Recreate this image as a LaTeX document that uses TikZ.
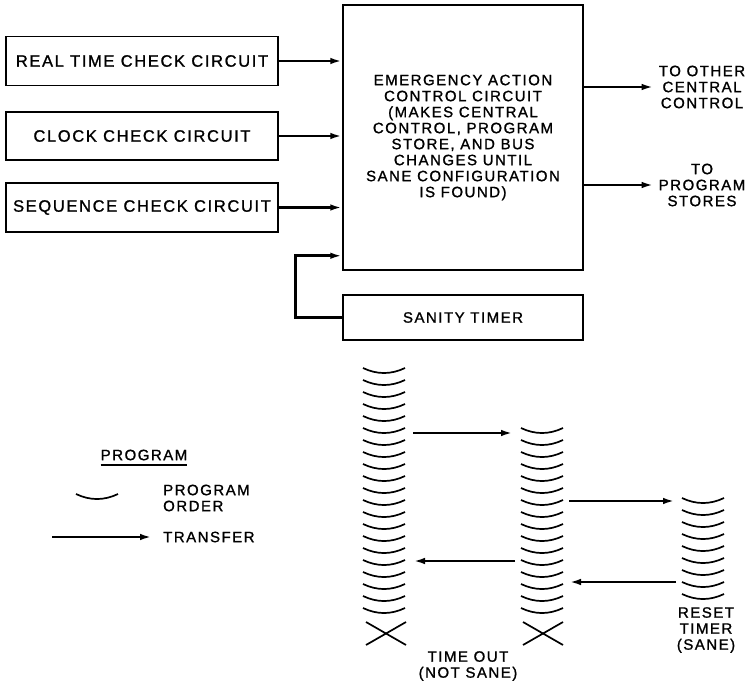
\documentclass[tikz,border=0pt]{standalone}
\usepackage{fontspec}
\setmainfont{Liberation Sans}[LetterSpace=10,FakeBold=1.2]
\usetikzlibrary{arrows.meta}

\tikzset{
    block/.style={draw, line width=1.5pt, inner sep=0pt, align=center},
    flow/.style={line width=2.8pt, -{Latex[length=12pt,width=6.5pt]}},
    lbl/.style={align=center, inner sep=0pt},
    porder/.pic={\draw[line width=1.7pt] (-21,-5) .. controls (-7,1.7) and (7,1.7) .. (21,-5);},
    timeout/.pic={\draw[line width=1.7pt] (-20,-11.5) -- (20,11.5) (-20,11.5) -- (20,-11.5);}
}

\begin{document}
\begin{tikzpicture}[x=1pt, y=-1pt, font=\fontsize{15}{16}\selectfont]
    \useasboundingbox (0,0) rectangle (751,685);

    % check circuits
    \node[block, minimum width=272pt, minimum height=49pt, font=\fontsize{16.5}{17}\selectfont] (rtc) at (142,61) {REAL TIME CHECK CIRCUIT};
    \node[block, minimum width=272pt, minimum height=48pt, font=\fontsize{16.5}{17}\selectfont] (ccc) at (142,136) {CLOCK CHECK CIRCUIT};
    \node[block, minimum width=272pt, minimum height=49pt, font=\fontsize{16.5}{17}\selectfont] (scc) at (142,207.5) {SEQUENCE CHECK CIRCUIT};

    \node[block, minimum width=240pt, minimum height=265pt] (eac) at (463,137.5)
        {EMERGENCY ACTION\\CONTROL CIRCUIT\\(MAKES CENTRAL\\CONTROL, PROGRAM\\STORE, AND BUS\\CHANGES UNTIL\\SANE CONFIGURATION\\IS FOUND)};
    \node[block, minimum width=240pt, minimum height=45pt] (sat) at (463,317.5) {SANITY TIMER};

    \draw[flow] (rtc.east) -- (rtc.east -| eac.west);
    \draw[flow] (ccc.east) -- (ccc.east -| eac.west);
    \draw[flow] (scc.east) -- (scc.east -| eac.west);
    \draw[flow] (sat.west) -- ++(-47,0) |- ([yshift=15pt]eac.south west);

    \node[lbl] (toc) at (702,87) {TO OTHER\\CENTRAL\\CONTROL};
    \node[lbl] (tps) at (702,185) {TO\\PROGRAM\\STORES};
    \draw[flow] (toc.west -| eac.east) -- ([xshift=-5pt]toc.west);
    \draw[flow] (tps.west -| eac.east) -- ([xshift=-5pt]toc.west |- tps.west);

    % program orders
    \foreach \k in {0,...,20} \pic at (384,{373+12*\k}) {porder};
    \foreach \k in {0,...,15} \pic at (542,{433+12*\k}) {porder};
    \foreach \k in {0,...,8} \pic at (703,{503+12*\k}) {porder};
    \pic at (386,633.5) {timeout};
    \pic at (543,633.5) {timeout};

    \coordinate (pa) at (413,433);
    \coordinate (pb) at (513,433);
    \coordinate (pc) at (569,501);
    \coordinate (pd) at (675,501);
    \coordinate (pe) at (676,582);
    \coordinate (pf) at (569,582);
    \coordinate (pg) at (515,561);
    \coordinate (ph) at (413,561);
    \draw[flow] (pa) -- (pb);
    \draw[flow] (pc) -- (pd);
    \draw[flow] (pe) -- (pf);
    \draw[flow] (pg) -- (ph);

    \node[lbl] (tmo) at (468,666) {TIME OUT\\(NOT SANE)};
    \node[lbl] (rst) at (706,630) {RESET\\TIMER\\(SANE)};

    % legend
    \node[lbl] (lgd) at (144,455) {PROGRAM};
    \draw[line width=2pt] ([yshift=-4pt]lgd.south west) -- ([yshift=-4pt]lgd.south east);
    \pic at (97,499) {porder};
    \node[lbl, anchor=west, align=left] (pgo) at (163,498) {PROGRAM\\ORDER};
    \coordinate (lga) at (52,537);
    \node[lbl, anchor=west] (trf) at (163,537) {TRANSFER};
    \draw[flow] (lga) -- ([xshift=-11pt]trf.west);
\end{tikzpicture}
\end{document}
